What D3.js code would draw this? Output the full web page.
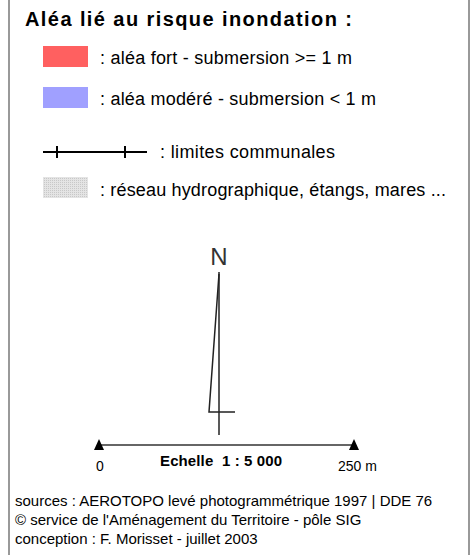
<!DOCTYPE html>
<html>
<head>
<meta charset="utf-8">
<script src="https://cdn.jsdelivr.net/npm/d3@7"></script>
<style>
  body { margin: 0; background: #fff; }
  text { font-family: "Liberation Sans", Arial, sans-serif; fill: #000; }
</style>
</head>
<body>
<script>
const title = 'Aléa lié au risque inondation :';
const zoneLabels = [': aléa fort - submersion >= 1 m', ': aléa modéré - submersion < 1 m'];
const zoneColors = ['#ff6060', '#a0a0ff'];
const lineLabel = ': limites communales';
const hydroLabel = ': réseau hydrographique, étangs, mares ...';
const scaleDomain = [0, 250];
const scaleTicks = ['0', '250 m'];
const scaleTitle = 'Echelle  1 : 5 000';
const sources = [
  'sources : AEROTOPO levé photogrammétrique 1997 | DDE 76',
  '© service de l\'Aménagement du Territoire - pôle SIG',
  'conception : F. Morisset - juillet 2003'
];

const width = 473, height = 555;

const svg = d3.select('body')
  .append('svg')
  .attr('width', width)
  .attr('height', height);

// frame
svg.append('line').attr('x1', 9).attr('x2', 9).attr('y1', 0).attr('y2', height)
  .attr('stroke', '#999').attr('stroke-width', 2);
svg.append('line').attr('x1', 469).attr('x2', 469).attr('y1', 0).attr('y2', height)
  .attr('stroke', '#999').attr('stroke-width', 2);

svg.append('text')
  .attr('x', 25)
  .attr('y', 26)
  .style('font-size', '20px')
  .style('font-weight', 'bold')
  .attr('textLength', 327)
  .text(title);

// zone swatches
const zoneY = d3.scalePoint().domain(zoneLabels).range([46, 87]);
const zoneLen = [252, 276];

const zones = svg.selectAll('g.zone')
  .data(zoneLabels)
  .enter()
  .append('g')
  .attr('class', 'zone')
  .attr('transform', (d) => 'translate(0,' + zoneY(d) + ')');

zones.append('rect')
  .attr('x', 43)
  .attr('width', 45)
  .attr('height', 21)
  .attr('fill', (d, i) => zoneColors[i]);

zones.append('text')
  .attr('x', 100)
  .attr('y', 18)
  .style('font-size', '18px')
  .attr('textLength', (d, i) => zoneLen[i])
  .text((d) => d);

// communal limits
svg.append('line')
  .attr('x1', 43).attr('x2', 147).attr('y1', 152).attr('y2', 152)
  .attr('stroke', '#000').attr('stroke-width', 2);
[57, 125].forEach((x) => {
  svg.append('line')
    .attr('x1', x).attr('x2', x).attr('y1', 146).attr('y2', 158)
    .attr('stroke', '#000').attr('stroke-width', 2);
});
svg.append('text')
  .attr('x', 160).attr('y', 158)
  .style('font-size', '18px')
  .attr('textLength', 175)
  .text(lineLabel);

// hydro swatch
const defs = svg.append('defs');
const pat = defs.append('pattern')
  .attr('id', 'dots')
  .attr('width', 2).attr('height', 2)
  .attr('patternUnits', 'userSpaceOnUse');
pat.append('rect').attr('width', 2).attr('height', 2).attr('fill', '#e4e4e4');
pat.append('rect').attr('width', 1).attr('height', 1).attr('fill', '#c8c8c8');

svg.append('rect')
  .attr('x', 43).attr('y', 177).attr('width', 45).attr('height', 21)
  .attr('fill', 'url(#dots)');
svg.append('text')
  .attr('x', 100).attr('y', 196)
  .style('font-size', '18px')
  .attr('textLength', 346)
  .text(hydroLabel);

// north arrow
svg.append('text')
  .attr('x', 219).attr('y', 265)
  .attr('text-anchor', 'middle')
  .style('font-size', '24px')
  .style('fill', '#333')
  .text('N');
svg.append('line')
  .attr('x1', 219).attr('x2', 219).attr('y1', 272).attr('y2', 435)
  .attr('stroke', '#222').attr('stroke-width', 1.5);
svg.append('path')
  .attr('d', 'M219,274 L209,412 L235,412')
  .attr('fill', 'none')
  .attr('stroke', '#222')
  .attr('stroke-width', 1.5);

// scale bar
const xScale = d3.scaleLinear().domain(scaleDomain).range([99, 354]);
svg.append('line')
  .attr('x1', xScale(0)).attr('x2', xScale(250)).attr('y1', 445).attr('y2', 445)
  .attr('stroke', '#333').attr('stroke-width', 1.5);

svg.selectAll('path.tri')
  .data(scaleDomain)
  .enter()
  .append('path')
  .attr('class', 'tri')
  .attr('d', (d) => {
    const x = xScale(d);
    return 'M' + x + ',439 L' + (x + 5) + ',450 L' + (x - 5) + ',450 Z';
  })
  .attr('fill', '#000');

svg.selectAll('text.stick')
  .data(scaleDomain)
  .enter()
  .append('text')
  .attr('class', 'stick')
  .attr('x', (d, i) => xScale(d) + (i === 0 ? -3 : -16))
  .attr('y', 471)
  .style('font-size', '14px')
  .text((d, i) => scaleTicks[i]);

svg.append('text')
  .attr('x', 160).attr('y', 466)
  .style('font-size', '15px')
  .style('font-weight', 'bold')
  .attr('xml:space', 'preserve')
  .attr('textLength', 122)
  .text(scaleTitle);

// sources
const srcLen = [418, null, null];
svg.selectAll('text.src')
  .data(sources)
  .enter()
  .append('text')
  .attr('class', 'src')
  .attr('x', 15)
  .attr('y', (d, i) => 506 + i * 19)
  .style('font-size', '15px')
  .text((d) => d);
</script>
</body>
</html>
